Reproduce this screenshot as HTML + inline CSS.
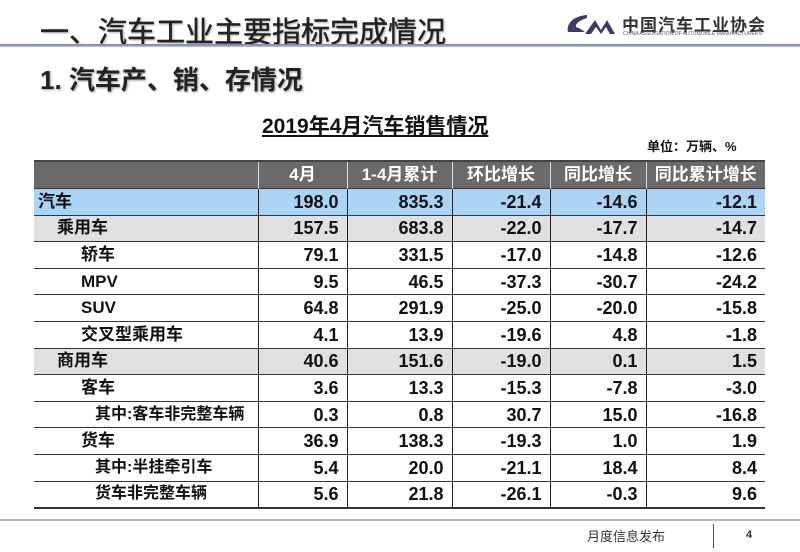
<!DOCTYPE html>
<html><head><meta charset="utf-8"><style>
body{margin:0;width:800px;height:552px;background:#fff;position:relative;overflow:hidden;font-family:"Liberation Sans","Noto Sans CJK SC",sans-serif;}
.a{position:absolute;white-space:nowrap;}
table{position:absolute;left:34px;top:160px;border-collapse:collapse;width:731px;table-layout:fixed;font-family:"Liberation Sans Narrow","Liberation Sans","Noto Sans CJK SC",sans-serif;font-weight:bold;font-size:18px;color:#111;}
td{height:25.6px;padding:0 8px 0 0;text-align:right;border-top:1px solid #333;border-left:1px solid #222;line-height:20px;}
td:first-child{text-align:left;border-left:none;font-family:"Liberation Sans","Noto Sans CJK SC",sans-serif;font-size:17px;padding-left:4px;}
tr.h td{background:#6a6a6a;color:#fff;height:26px;border-left:1px solid #ddd;border-top:2px solid #444;text-align:center;padding:0;font-family:"Liberation Sans","Noto Sans CJK SC",sans-serif;font-size:17px;}
tr.h td:first-child{border-left:none}
tr.b td{background:#aad4f6}
tr.g td{background:#e0e0e0}
tr.last td{border-bottom:2px solid #333}
</style></head><body>
<div class="a" style="left:40px;top:9px;font-size:29px;color:#222;font-family:'Liberation Sans','Noto Sans CJK SC',sans-serif;text-shadow:1px 1px 2px #999;-webkit-text-stroke:0.4px #222;">一、汽车工业主要指标完成情况</div>
<div class="a" style="left:0;top:44px;width:800px;height:3px;background:linear-gradient(#6a7f99,#b8c6d6);"></div>
<svg class="a" style="left:565px;top:12px" width="65" height="26"><path d="M22 3 C8 4 1 12 3 20 L20 20 L14 16 C9 16 9 10 22 6 Z" fill="#3b3a6b"/><path d="M20 22 L30 8 L36 18 L42 8 L50 22 L45 22 L41 15 L36 22 L31 15 L26 22 Z" fill="#3b3a6b"/></svg>
<div class="a" style="left:622px;top:11px;font-size:17px;font-weight:bold;color:#333;letter-spacing:1px;">中国汽车工业协会</div>
<div class="a" style="left:623px;top:31px;font-size:5px;color:#555;">CHINA ASSOCIATION OF AUTOMOBILE MANUFACTURERS</div>
<div class="a" style="left:40px;top:60px;font-size:26px;font-weight:bold;color:#222;text-shadow:1px 1px 2px #999;">1. 汽车产、销、存情况</div>
<div class="a" style="left:262px;top:110px;font-size:21px;font-weight:bold;color:#111;text-decoration:underline;">2019年4月汽车销售情况</div>
<div class="a" style="left:647px;top:136px;font-size:13px;font-weight:bold;color:#111;">单位：万辆、%</div>
<table>
<colgroup><col style="width:224px"><col style="width:89px"><col style="width:105px"><col style="width:98px"><col style="width:96px"><col style="width:119px"></colgroup>
<tr class="h"><td></td><td>4月</td><td>1-4月累计</td><td>环比增长</td><td>同比增长</td><td>同比累计增长</td></tr>
<tr class="b"><td>汽车</td><td>198.0</td><td>835.3</td><td>-21.4</td><td>-14.6</td><td>-12.1</td></tr>
<tr class="g"><td style="padding-left:23px">乘用车</td><td>157.5</td><td>683.8</td><td>-22.0</td><td>-17.7</td><td>-14.7</td></tr>
<tr><td style="padding-left:47px">轿车</td><td>79.1</td><td>331.5</td><td>-17.0</td><td>-14.8</td><td>-12.6</td></tr>
<tr><td style="padding-left:47px">MPV</td><td>9.5</td><td>46.5</td><td>-37.3</td><td>-30.7</td><td>-24.2</td></tr>
<tr><td style="padding-left:47px">SUV</td><td>64.8</td><td>291.9</td><td>-25.0</td><td>-20.0</td><td>-15.8</td></tr>
<tr><td style="padding-left:47px">交叉型乘用车</td><td>4.1</td><td>13.9</td><td>-19.6</td><td>4.8</td><td>-1.8</td></tr>
<tr class="g"><td style="padding-left:23px">商用车</td><td>40.6</td><td>151.6</td><td>-19.0</td><td>0.1</td><td>1.5</td></tr>
<tr><td style="padding-left:47px">客车</td><td>3.6</td><td>13.3</td><td>-15.3</td><td>-7.8</td><td>-3.0</td></tr>
<tr><td style="padding-left:61px;font-size:16px">其中:客车非完整车辆</td><td>0.3</td><td>0.8</td><td>30.7</td><td>15.0</td><td>-16.8</td></tr>
<tr><td style="padding-left:47px">货车</td><td>36.9</td><td>138.3</td><td>-19.3</td><td>1.0</td><td>1.9</td></tr>
<tr><td style="padding-left:61px;font-size:16px">其中:半挂牵引车</td><td>5.4</td><td>20.0</td><td>-21.1</td><td>18.4</td><td>8.4</td></tr>
<tr class="last"><td style="padding-left:61px;font-size:16px">货车非完整车辆</td><td>5.6</td><td>21.8</td><td>-26.1</td><td>-0.3</td><td>9.6</td></tr>
</table>
<div class="a" style="left:0;top:519px;width:800px;height:2px;background:#bbb;"></div>
<div class="a" style="left:587px;top:526px;font-size:13px;color:#333;">月度信息发布</div>
<div class="a" style="left:713px;top:524px;width:1px;height:24px;background:#555;"></div>
<div class="a" style="left:746px;top:529px;font-size:11px;font-weight:bold;color:#333;">4</div>
</body></html>
